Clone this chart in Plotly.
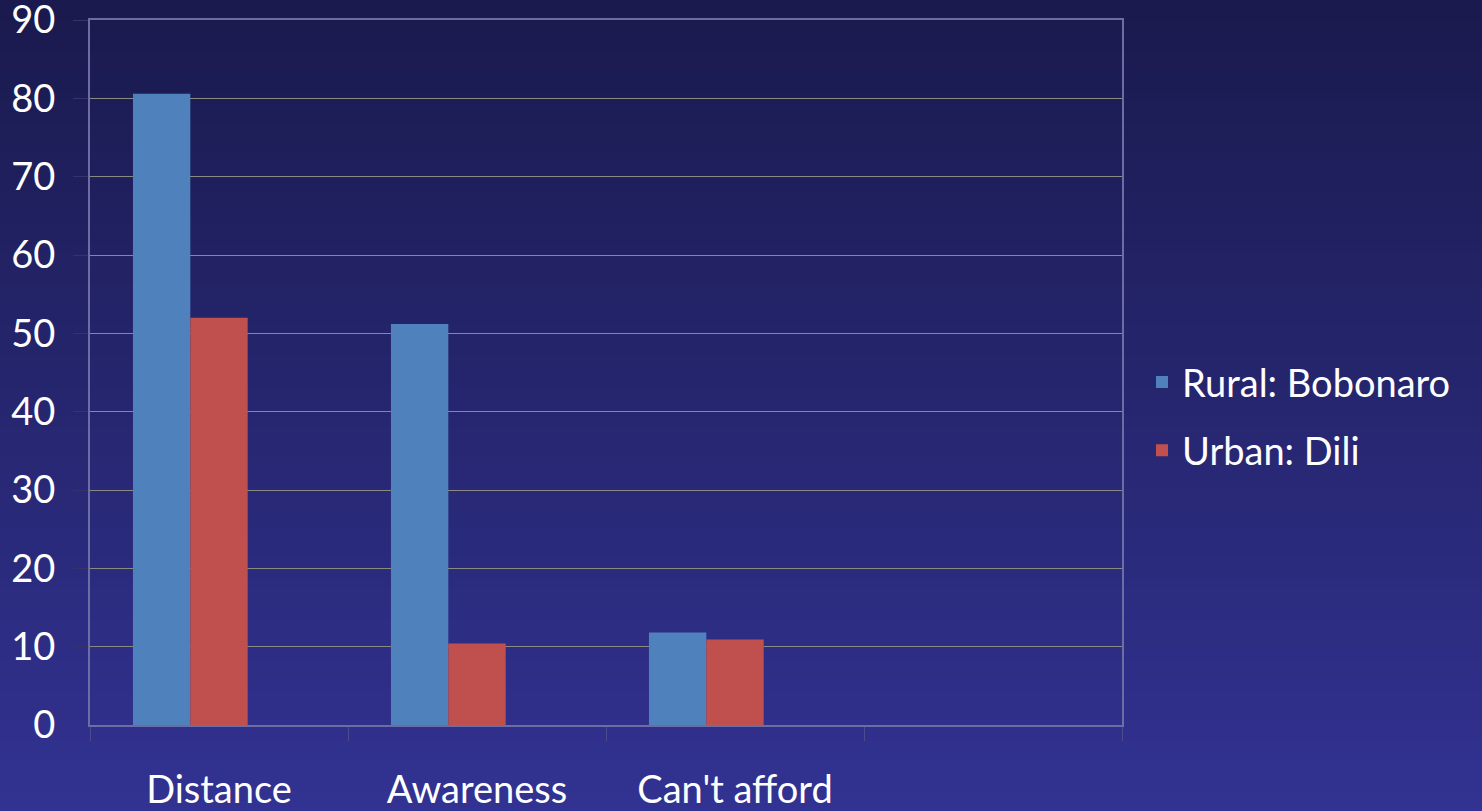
import plotly.graph_objects as go

categories = ["Distance", "Awareness", "Can't afford", " "]
rural = [80.6, 51.2, 11.8, None]
urban = [52.0, 10.4, 10.9, None]
third = [None, None, None, None]
series_names = ["Rural: Bobonaro", "Urban: Dili", ""]
series_colors = ["#4f81bd", "#c0504d", "#9bbb59"]

W, H = 1482, 811
ML, MR, MT, MB = 90, 360, 20, 86
PW, PH = W - ML - MR, H - MT - MB

fig = go.Figure()
for name, vals, col, show in zip(series_names, [rural, urban, third], series_colors, [True, True, False]):
    fig.add_trace(go.Bar(x=categories, y=vals, name=name, marker=dict(color=col, line=dict(width=0)),
                         showlegend=show, legendgroup=name or "s3"))

# vertical gradient background
top = (26, 26, 78)
bot = (50, 50, 146)
N = 80
x0p, x1p = -ML / PW, 1 + MR / PW
y0p, y1p = -MB / PH, 1 + MT / PH
shapes = []
for i in range(N):
    t = i / (N - 1)
    c = tuple(round(bot[k] + (top[k] - bot[k]) * t) for k in range(3))
    ya = y0p + (y1p - y0p) * i / N
    yb = y0p + (y1p - y0p) * (i + 1) / N + 0.002
    shapes.append(dict(type="rect", xref="paper", yref="paper", x0=x0p - 0.01, x1=x1p + 0.01,
                       y0=ya - (0.01 if i == 0 else 0), y1=yb,
                       fillcolor="rgb(%d,%d,%d)" % c, line=dict(width=0), layer="below"))

font = dict(family="Lato, Calibri, sans-serif", size=38, color="#ffffff")
fig.update_layout(
    width=W, height=H,
    margin=dict(l=ML, r=MR, t=MT, b=MB, autoexpand=False),
    paper_bgcolor="rgb(38,38,112)",
    plot_bgcolor="rgba(0,0,0,0)",
    shapes=shapes,
    barmode="group", bargap=0.333, bargroupgap=0,
    font=font,
    showlegend=True,
    legend=dict(x=(1142 - ML) / PW, xanchor="left", y=0.438, yanchor="middle",
                bgcolor="rgba(0,0,0,0)", font=font, tracegroupgap=16),
    xaxis=dict(type="category", categoryorder="array", categoryarray=categories, automargin=False,
               range=[-0.5, 3.5], showgrid=False, showline=True, linecolor="#6d6da6", linewidth=2,
               mirror=True, ticks="outside", tickson="boundaries", ticklen=14, tickcolor="#4a4a8c",
               tickwidth=1, tickfont=font, ticklabelstandoff=30, ticklabeloverflow="allow"),
    yaxis=dict(range=[0, 90], dtick=10, tick0=0, showgrid=True, gridcolor="#8a8a82", gridwidth=1,
               automargin=False, ticklabeloverflow="allow",
               zeroline=False, showline=True, linecolor="#6d6da6", linewidth=2, mirror=True,
               ticks="outside", ticklen=15, tickcolor="#34346c", tickwidth=1, tickfont=font,
               ticklabelstandoff=10),
)

fig.write_html("out.html", config={"displayModeBar": False},
               post_script="document.body.style.margin='0';document.body.style.background='rgb(38,38,112)';")
